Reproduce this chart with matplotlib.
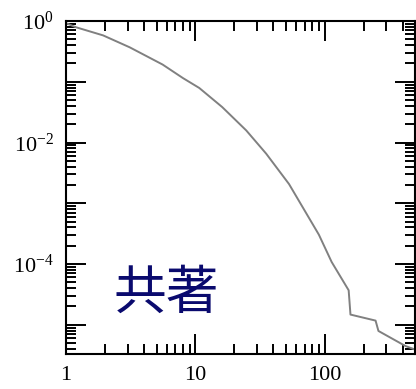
import numpy as np
import matplotlib
matplotlib.use("Agg")
import matplotlib.pyplot as plt
from matplotlib.ticker import LogLocator, FixedLocator, FixedFormatter, NullFormatter

plt.rcParams['font.family'] = ['Liberation Serif', 'DejaVu Serif']
plt.rcParams['mathtext.fontset'] = 'custom'
plt.rcParams['mathtext.rm'] = 'Liberation Serif'
plt.rcParams['mathtext.it'] = 'Liberation Serif:italic'

# distribution
x_vals = [1, 1.19, 1.93, 3.1, 5.57, 8.0, 10.7, 16.1, 24.7, 35.2, 52.9, 90, 113, 153, 158, 247, 260, 420, 500]
y_vals = [0.92, 0.79, 0.58, 0.369, 0.192, 0.115, 0.079, 0.0383, 0.0158, 0.00656, 0.00207,
          3.04e-4, 1.08e-4, 3.69e-5, 1.47e-5, 1.17e-5, 7.9e-6, 4.47e-6, 3.9e-6]

x_ticks = [1, 10, 100]
x_labels = ['1', '10', '100']
y_ticks = [1e0, 1e-2, 1e-4]
y_labels = [r'$10^{0}$', r'$10^{-2}$', r'$10^{-4}$']

fig = plt.figure(figsize=(4.16, 3.89), dpi=100)
ax = fig.add_axes([0.159, 0.090, 0.839, 0.856])

ax.plot(x_vals, y_vals, color='#808080', lw=1.4)

ax.set_xscale('log')
ax.set_yscale('log')
ax.set_xlim(1, 500)
ax.set_ylim(3.3e-6, 1)

ax.xaxis.set_major_locator(FixedLocator(x_ticks))
ax.xaxis.set_major_formatter(FixedFormatter(x_labels))
ax.xaxis.set_minor_locator(LogLocator(base=10, subs=np.arange(2, 10)))
ax.xaxis.set_minor_formatter(NullFormatter())

ax.yaxis.set_major_locator(LogLocator(base=10, numticks=20))
ax.yaxis.set_minor_locator(LogLocator(base=10, subs=np.arange(2, 10), numticks=20))
ax.yaxis.set_minor_formatter(NullFormatter())
ax.yaxis.set_major_formatter(
    lambda v, pos: dict(zip([round(np.log10(t)) for t in y_ticks], y_labels)).get(round(np.log10(v)), ''))

ax.tick_params(which='both', direction='in', top=True, right=True, width=1.4, colors='black')
ax.tick_params(which='major', length=14.5, pad=9, labelsize=16)
ax.tick_params(which='minor', length=7.5)
for s in ax.spines.values():
    s.set_linewidth(1.5)

ax.text(0.135, 0.099, '共著', transform=ax.transAxes, color='#0a0a6e', fontsize=38,
        family=['Noto Sans CJK JP', 'DejaVu Sans'], fontweight='normal',
        ha='left', va='bottom')

fig.savefig('out.png', dpi=100)
